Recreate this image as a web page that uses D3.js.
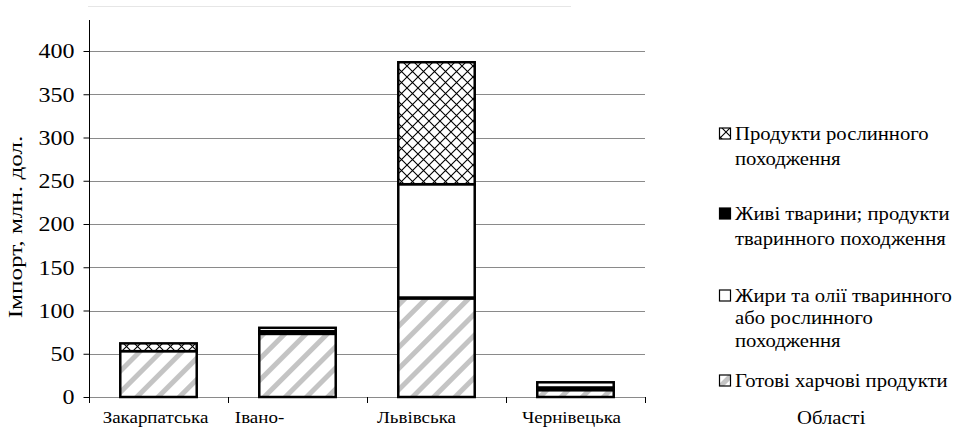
<!DOCTYPE html>
<html>
<head>
<meta charset="utf-8">
<script src="https://cdn.jsdelivr.net/npm/d3@7"></script>
<style>
  body { margin: 0; background: #fff; }
  svg text { font-family: "Liberation Serif", "Times New Roman", "DejaVu Serif", serif; }
</style>
</head>
<body>
<div id="chartDiv"></div>
<script>
// data (млн. дол.)
var regions = ["Закарпатська", "Івано-", "Львівська", "Чернівецька"];
var seriesNames = ["Готові харчові продукти", "Живі тварини; продукти тваринного походження",
    "Жири та олії тваринного або рослинного походження", "Продукти рослинного походження"];
var gotovi = [53, 73, 114, 8];
var zhyvi = [0, 3, 1, 3];
var zhyry = [0, 4, 131, 6];
var roslynni = [9, 0, 141, 0];
var yTicks = [0, 50, 100, 150, 200, 250, 300, 350, 400];

// legend text, top to bottom, split in lines as in the picture
var legendLines = [
    ["Продукти рослинного", "походження"],
    ["Живі тварини; продукти", "тваринного походження"],
    ["Жири та олії тваринного", "або рослинного", "походження"],
    ["Готові харчові продукти"]
];

var serif = "'Liberation Serif', 'Times New Roman', 'DejaVu Serif', serif";
var width = 958, height = 434;
var margin = { top: 20, left: 89, bottom: 37 };
var plotRight = 645;

var svg = d3.select("#chartDiv").append("svg")
    .attr("width", width)
    .attr("height", height)
    .attr("font-family", serif);

var defs = svg.append("defs");

// light grey diagonal stripes
var stripes = defs.append("pattern")
    .attr("id", "stripes")
    .attr("patternUnits", "userSpaceOnUse")
    .attr("width", 15)
    .attr("height", 15)
    .attr("patternTransform", "rotate(45)");
stripes.append("rect").attr("width", 15).attr("height", 15).attr("fill", "#fff");
stripes.append("rect").attr("width", 5).attr("height", 15).attr("fill", "#c4c4c4");

// diamond crosshatch
var hatch = defs.append("pattern")
    .attr("id", "hatch")
    .attr("patternUnits", "userSpaceOnUse")
    .attr("width", 11)
    .attr("height", 11);
hatch.append("rect").attr("width", 11).attr("height", 11).attr("fill", "#fff");
hatch.append("path")
    .attr("d", "M0,0L11,11M11,0L0,11")
    .attr("stroke", "#000")
    .attr("stroke-width", 1.1);

var fills = ["url(#stripes)", "#000", "#fff", "url(#hatch)"];

var x = d3.scaleBand()
    .domain(regions)
    .range([margin.left, margin.left + 4 * 139])
    .paddingInner(0.45)
    .paddingOuter(0.225);

var y = d3.scaleLinear()
    .domain([0, 400])
    .range([height - margin.bottom, 51]);

// frame line at the top
svg.append("line")
    .attr("x1", 88).attr("x2", 571)
    .attr("y1", 6.5).attr("y2", 6.5)
    .attr("stroke", "#e6e6e6");

// gridlines
svg.append("g")
    .selectAll("line")
    .data(yTicks)
    .enter().append("line")
    .attr("x1", margin.left)
    .attr("x2", plotRight)
    .attr("y1", function (d) { return Math.round(y(d)) + 0.5; })
    .attr("y2", function (d) { return Math.round(y(d)) + 0.5; })
    .attr("stroke", "#8a8a8a")
    .attr("stroke-width", 1);

// y axis
var yAxis = d3.axisLeft(y).tickValues(yTicks).tickSize(6).tickPadding(9);
var gy = svg.append("g")
    .attr("transform", "translate(" + (margin.left + 0.5) + ",0)")
    .call(yAxis)
    .attr("font-family", serif)
    .attr("font-size", 20);
gy.select(".domain").remove();
gy.append("line")
    .attr("y1", margin.top).attr("y2", y(0))
    .attr("stroke", "#000");
gy.selectAll(".tick line").attr("stroke", "#000");
// the reference glyphs are wider than Liberation Serif, so stretch them a bit
gy.selectAll(".tick text")
    .attr("fill", "#000")
    .attr("dy", "0.34em")
    .attr("x", -15 / 1.2)
    .attr("transform", "scale(1.2,1)");

// category ticks below the baseline
var step = x.step();
svg.append("g")
    .selectAll("line")
    .data(d3.range(regions.length + 1))
    .enter().append("line")
    .attr("x1", function (i) { return Math.round(margin.left + i * step) + 0.5; })
    .attr("x2", function (i) { return Math.round(margin.left + i * step) + 0.5; })
    .attr("y1", y(0))
    .attr("y2", y(0) + 6)
    .attr("stroke", "#000");

// stacked bars
var rows = regions.map(function (r, i) {
    return { region: r, s0: gotovi[i], s1: zhyvi[i], s2: zhyry[i], s3: roslynni[i] };
});
var stack = d3.stack().keys(["s0", "s1", "s2", "s3"]);
var layers = stack(rows);

layers.forEach(function (layer, k) {
    svg.append("g")
        .selectAll("rect")
        .data(layer.filter(function (d) { return d[1] - d[0] > 0; }))
        .enter().append("rect")
        .attr("x", function (d) { return x(d.data.region); })
        .attr("width", x.bandwidth())
        .attr("y", function (d) { return y(d[1]); })
        .attr("height", function (d) { return y(d[0]) - y(d[1]); })
        .attr("fill", fills[k])
        .attr("stroke", "#000")
        .attr("stroke-width", 2.5);
});

// category labels
var labelShift = [-3, -38, -20, -4];
svg.append("g")
    .selectAll("text")
    .data(regions)
    .enter().append("text")
    .attr("transform", function (d, i) {
        return "translate(" + (x(d) + x.bandwidth() / 2 + labelShift[i]) + ",423) scale(1.15,1)";
    })
    .attr("text-anchor", "middle")
    .attr("font-size", 16.5)
    .text(function (d) { return d; });

// y title
svg.append("text")
    .attr("transform", "translate(22,227) rotate(-90) scale(1.29,1)")
    .attr("text-anchor", "middle")
    .attr("font-size", 19.5)
    .text("Імпорт, млн. дол.");

// x title
svg.append("text")
    .attr("transform", "translate(797,424) scale(1.15,1)")
    .attr("font-size", 18)
    .text("Області");

// legend
var legendFills = [fills[3], fills[1], fills[2], fills[0]];
var legendTop = [140, 220, 302, 387];
var legend = svg.append("g");
legendLines.forEach(function (lines, i) {
    legend.append("rect")
        .attr("x", 719.5)
        .attr("y", legendTop[i] - 12)
        .attr("width", 11)
        .attr("height", 11)
        .attr("fill", legendFills[i])
        .attr("stroke", "#000")
        .attr("stroke-width", 1.2);
    var t = legend.append("text")
        .attr("transform", "translate(735," + legendTop[i] + ") scale(1.09,1)")
        .attr("font-size", 19);
    lines.forEach(function (l, j) {
        t.append("tspan")
            .attr("x", 0)
            .attr("dy", j === 0 ? 0 : (i === 2 ? 22.5 : 25))
            .text(l);
    });
});
</script>
</body>
</html>
